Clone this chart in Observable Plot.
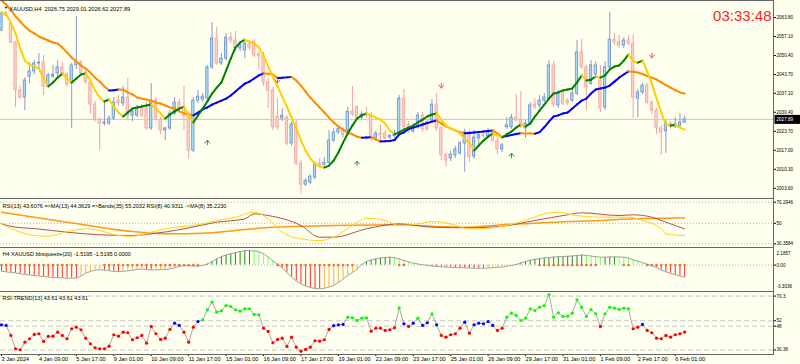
<!DOCTYPE html>
<html><head><meta charset="utf-8">
<script src="https://cdn.jsdelivr.net/npm/d3@7"></script>
<script src="https://cdn.jsdelivr.net/npm/@observablehq/plot@0.6"></script>
<style>
html,body{margin:0;padding:0;background:#fffff0;}
#chart{position:relative;width:800px;height:364px;background:#fffff0;overflow:hidden;font-family:"Liberation Sans",Arial,sans-serif;color:#000;}
#chart > svg, #chart > figure{position:absolute;left:0;margin:0;overflow:visible;}
.hl{position:absolute;left:0;width:774px;height:1px;background:#666;}
.vl{position:absolute;left:773px;top:0;width:1px;height:355px;background:#666;}
</style></head><body><div id="chart"></div>
<script>
// ---------------- DATA ----------------
const symbolName = "XAUUSD,H4";
const clockText = "03:33:48";
const open = [2059.2,2065.2,2061.7,2055.0,2038.1,2035.6,2043.0,2044.8,2047.6,2047.9,
2039.5,2043.0,2044.1,2046.2,2043.7,2040.5,2046.9,2047.9,2044.4,2040.9,
2033.1,2027.8,2026.4,2026.4,2028.2,2034.5,2033.5,2035.6,2029.2,2029.2,
2032.1,2031.7,2024.7,2034.5,2027.8,2024.0,2024.7,2029.9,2033.8,2032.1,
2029.2,2016.9,2034.5,2034.9,2035.2,2046.2,2056.4,2047.6,2049.3,2056.7,
2055.7,2052.9,2052.2,2054.6,2055.3,2050.8,2050.4,2040.9,2038.1,2028.8,
2028.2,2028.5,2019.4,2026.4,2012.3,2004.9,2005.6,2007.4,2012.3,2011.9,
2012.6,2020.4,2023.3,2024.4,2024.0,2030.6,2032.1,2028.5,2029.9,2029.2,
2021.2,2022.9,2022.9,2021.5,2022.0,2023.0,2035.2,2025.8,2023.7,2025.1,
2029.2,2027.1,2027.5,2033.1,2024.7,2015.2,2014.1,2015.2,2015.9,2019.4,
2023.3,2014.8,2021.2,2022.3,2021.9,2023.3,2020.4,2017.3,2025.1,2025.1,
2028.5,2027.5,2024.7,2026.4,2033.1,2032.8,2034.5,2035.2,2046.9,2032.8,
2037.0,2034.5,2034.5,2037.0,2051.5,2046.2,2040.5,2043.7,2041.6,2032.1,
2046.2,2056.0,2055.0,2053.9,2055.7,2054.6,2035.2,2037.4,2039.8,2033.8,
2031.0,2024.7,2023.7,2026.4,2025.4,2025.7,2026.75];
const high = [2065.9,2065.9,2062.0,2055.3,2039.5,2042.6,2047.9,2048.6,2051.1,2050.4,
2044.1,2046.9,2048.6,2047.9,2044.4,2047.6,2064.2,2048.6,2045.1,2041.6,
2034.2,2028.5,2034.5,2029.2,2035.6,2036.3,2039.5,2042.3,2031.7,2032.8,
2033.1,2033.8,2040.5,2035.6,2028.5,2025.1,2031.0,2035.6,2034.9,2039.5,
2030.6,2035.6,2038.1,2037.0,2046.9,2062.0,2060.3,2051.1,2058.1,2058.5,
2058.9,2055.3,2055.7,2055.7,2056.0,2051.8,2051.5,2042.3,2039.2,2035.2,
2031.7,2029.2,2027.1,2027.5,2013.4,2007.0,2008.4,2013.0,2014.1,2014.4,
2024.0,2024.7,2025.4,2025.1,2032.1,2039.5,2032.8,2030.6,2032.1,2030.3,
2023.7,2025.8,2024.0,2022.6,2024.0,2036.3,2038.4,2027.1,2026.4,2030.3,
2030.3,2027.8,2034.9,2037.0,2025.4,2016.2,2016.6,2018.4,2020.1,2024.4,
2024.0,2024.0,2023.7,2023.0,2024.7,2024.0,2021.2,2019.4,2028.5,2029.6,
2036.6,2037.7,2027.5,2033.8,2035.2,2036.3,2037.0,2048.6,2048.3,2038.1,
2037.7,2035.2,2038.1,2055.7,2056.0,2046.9,2048.6,2048.3,2046.9,2048.3,
2065.6,2058.2,2057.5,2056.7,2057.5,2057.8,2038.4,2040.5,2040.5,2034.5,
2031.7,2025.7,2027.5,2027.1,2028.5,2030.0,2029.01];
const low = [2058.9,2064.0,2054.6,2032.1,2034.9,2031.0,2040.5,2043.7,2045.5,2036.3,
2039.2,2042.3,2042.3,2043.0,2039.2,2024.7,2045.5,2043.0,2040.2,2029.9,
2027.0,2016.9,2025.5,2025.8,2027.5,2032.4,2032.4,2027.5,2027.1,2028.5,
2028.5,2024.0,2024.0,2027.5,2022.6,2020.4,2024.0,2029.2,2030.6,2024.0,
2013.8,2016.2,2033.5,2033.8,2034.5,2045.5,2046.9,2046.9,2048.6,2054.6,
2051.8,2051.8,2049.3,2052.2,2049.7,2045.5,2039.5,2031.7,2024.0,2024.0,
2027.1,2018.7,2018.4,2011.6,2001.7,2004.2,2004.9,2006.6,2010.9,2010.9,
2011.9,2019.7,2022.6,2021.2,2023.3,2028.8,2027.5,2027.8,2028.2,2020.1,
2020.4,2019.7,2020.8,2020.8,2021.2,2022.6,2024.0,2023.0,2022.9,2024.4,
2023.3,2023.7,2026.8,2023.7,2013.4,2011.2,2013.0,2014.1,2015.2,2009.2,
2012.6,2013.8,2019.0,2021.2,2021.2,2019.7,2015.5,2016.2,2024.4,2024.4,
2026.8,2024.7,2021.2,2025.8,2031.4,2031.7,2033.8,2034.5,2032.1,2031.7,
2032.8,2032.8,2033.8,2036.3,2045.5,2031.0,2039.8,2042.3,2030.3,2031.0,
2045.5,2054.0,2052.9,2052.9,2053.9,2028.2,2028.5,2036.6,2033.1,2029.6,
2022.6,2015.2,2015.9,2024.4,2024.7,2025.1,2026.62];
const close = [2065.2,2064.5,2055.0,2038.1,2035.6,2041.6,2044.8,2047.6,2047.9,2039.5,
2043.4,2043.6,2046.2,2044.1,2040.2,2046.9,2047.9,2044.1,2041.0,2033.1,
2027.8,2026.4,2026.8,2028.2,2033.8,2033.5,2035.6,2029.2,2030.6,2031.7,
2029.2,2024.7,2034.5,2028.2,2024.0,2024.7,2029.9,2033.8,2031.7,2029.2,
2016.9,2034.5,2035.9,2035.9,2046.2,2056.4,2047.6,2049.3,2056.7,2055.7,
2052.9,2054.0,2054.6,2053.2,2050.4,2050.1,2040.9,2038.1,2025.1,2025.1,
2029.2,2019.4,2026.1,2012.3,2004.9,2006.3,2007.7,2012.3,2011.6,2012.6,
2020.4,2023.3,2024.4,2022.3,2030.6,2029.6,2028.2,2029.6,2029.2,2021.5,
2022.9,2022.3,2021.2,2022.0,2023.0,2035.2,2025.1,2023.7,2025.1,2029.2,
2024.4,2024.4,2033.1,2024.7,2015.2,2013.4,2015.5,2017.3,2019.4,2023.3,
2014.5,2021.5,2022.3,2022.0,2023.7,2020.4,2017.3,2018.7,2025.8,2028.5,
2027.5,2025.1,2026.4,2032.8,2032.1,2034.5,2035.6,2046.9,2033.1,2037.0,
2033.5,2033.5,2037.0,2051.5,2046.2,2039.2,2046.9,2046.9,2031.7,2046.2,
2056.0,2055.0,2053.9,2055.7,2054.6,2035.6,2037.4,2039.8,2033.8,2031.0,
2024.7,2023.3,2026.4,2025.4,2026.1,2026.8,2027.89];
const fastMA = [2065.6,2064.9,2062.0,2058.2,2052.9,2048.6,2047.2,2046.5,2045.8,2042.3,
2039.5,2040.9,2042.6,2044.1,2042.3,2040.9,2042.3,2043.7,2044.1,2041.6,
2038.1,2035.6,2034.2,2034.9,2032.4,2030.3,2028.9,2030.3,2031.7,2032.1,
2032.4,2032.8,2033.1,2031.7,2030.0,2028.2,2029.6,2030.7,2031.7,2032.4,
2029.3,2026.8,2029.3,2031.7,2034.2,2037.0,2039.1,2040.9,2045.1,2049.3,
2053.2,2055.0,2056.0,2055.3,2054.6,2053.2,2050.4,2046.5,2043.0,2039.5,
2035.9,2032.4,2028.5,2024.7,2020.4,2016.9,2014.1,2012.3,2011.3,2010.9,
2011.6,2013.4,2016.2,2019.7,2022.9,2025.7,2028.2,2029.3,2030.0,2029.3,
2028.5,2027.8,2026.4,2024.0,2022.6,2023.3,2024.3,2025.0,2025.7,2026.8,
2027.8,2028.9,2029.6,2030.0,2027.8,2025.7,2024.7,2024.0,2022.9,2021.1,
2019.7,2016.9,2018.7,2020.4,2021.8,2022.9,2022.2,2021.5,2022.6,2023.6,
2025.0,2026.1,2025.4,2026.4,2028.9,2031.0,2033.1,2035.2,2037.0,2037.4,
2038.1,2038.4,2038.8,2040.9,2043.4,2041.6,2041.9,2043.0,2042.6,2043.4,
2045.5,2046.5,2046.9,2048.6,2050.8,2048.3,2047.9,2048.6,2044.8,2040.5,
2035.2,2030.3,2026.1,2025.7,2025.9,2025.0,2024.3];
const slowMA = [2069.8,2068.4,2066.3,2064.2,2062.4,2060.6,2059.2,2058.2,2057.1,2056.4,
2055.7,2055.0,2054.6,2053.2,2051.5,2049.7,2048.3,2046.9,2045.8,2044.4,
2042.6,2041.2,2039.5,2038.1,2038.2,2038.4,2038.3,2037.4,2036.7,2035.6,
2035.2,2034.9,2034.5,2033.8,2033.5,2032.8,2032.1,2031.7,2030.7,2030.0,
2029.6,2029.3,2030.3,2031.4,2032.1,2033.1,2033.8,2034.5,2035.2,2036.3,
2037.7,2039.1,2040.5,2041.2,2042.3,2043.4,2044.1,2044.0,2043.7,2042.5,
2042.6,2042.7,2042.8,2041.6,2039.8,2037.7,2035.6,2033.8,2032.1,2030.3,
2028.5,2026.8,2025.4,2024.3,2023.3,2022.6,2021.8,2021.4,2021.5,2021.6,
2020.8,2020.1,2020.2,2020.3,2020.6,2022.6,2023.3,2024.5,2025.0,2025.5,
2026.1,2026.6,2027.1,2027.5,2026.4,2025.4,2024.7,2024.0,2023.4,2023.0,
2023.1,2023.3,2023.4,2023.6,2023.8,2024.0,2022.9,2021.7,2022.0,2022.4,
2022.7,2023.0,2022.95,2022.9,2022.85,2023.4,2025.1,2027.1,2028.9,2029.3,
2030.0,2030.3,2031.7,2033.1,2034.5,2035.2,2037.0,2038.4,2038.8,2039.1,
2039.8,2041.2,2042.6,2043.7,2044.8,2044.7,2044.4,2043.9,2043.2,2042.6,
2041.9,2040.9,2040.0,2039.1,2038.2,2037.4,2037.0];
const buyArrowBars = [44, 76, 109];
const buyArrowPrices = [2019.7, 2012.3, 2015.1];
const sellArrowBars = [59, 94, 139];
const sellArrowPrices = [2041.6, 2039.8, 2050.4];
const priceTicks = [2063.8, 2057.1, 2050.4, 2043.7, 2037.1, 2030.4, 2023.7, 2017.0, 2010.3, 2003.6];

// RSI sub-window
const rsiTitle = "RSI(13) 43.6076 =>MA(13) 44.3629 =>Bands(35) 55.2032 RSI(8) 40.9311 ->MA(8) 35.2230";
const bandsBars = [0,7,14,21,28,36,43,50,57,64,71,85,92,100,107,114,121,128,135,142,146];
const bandsVals = [60.7,55.9,51.1,46.3,42.1,39.9,40.4,43.1,46.0,47.2,47.9,48.6,47.2,46.3,48.6,50.1,51.7,52.7,54.3,54.9,55.1];
const rsiBars = [0,3,7,14,21,28,32,39,46,52,54,57,64,68,71,78,85,92,100,107,114,121,124,132,135,139,142,146];
const rsiVals = [49.5,46.3,45.0,41.5,39.0,38.3,39.9,44.7,51.1,54.3,59.1,57.5,47.9,36.7,36.7,44.7,49.5,46.3,45.7,47.2,52.7,58.2,60.1,57.5,58.2,55.9,51.1,44.7];
const rsi8Bars = [0,4,7,10,14,18,21,25,28,32,35,43,46,50,54,57,60,64,68,71,75,78,82,85,89,92,96,100,102,107,112,116,119,122,128,134,137,141,142,146];
const rsi8Vals = [49.5,41.5,38.3,37.6,42.1,44.7,43.1,38.3,37.6,41.5,44.7,49.5,52.7,55.9,60.7,54.3,41.5,35.1,33.5,36.7,47.9,54.9,52.7,47.9,49.5,51.7,49.5,44.7,44.7,47.2,52.7,59.1,60.7,58.2,55.9,55.9,52.7,44.7,39.9,38.3];
const rsiLevels = [70.2946, 50, 30.3584];
const rsiLevelLabels = ["70.2946", "50", "30.3584"];

// bbsqueeze sub-window
const sqTitle = "H4 XAUUSD bbsqueeze(20) -1.5195 -1.5195 0.0000";
const sqHist = [-0.78,-0.86,-0.93,-1.01,-1.10,-1.19,-1.26,-1.33,-1.39,-1.46,
-1.52,-1.56,-1.60,-1.63,-1.67,-1.67,-1.67,-1.39,-1.01,-0.82,
-0.63,-0.59,-0.65,-0.72,-0.79,-0.82,-0.79,-0.73,-0.66,-0.54,
-0.50,-0.56,-0.63,-0.60,-0.57,-0.56,-0.50,-0.33,-0.15,-0.05,
-0.09,-0.11,-0.14,-0.05,0.14,0.46,0.78,1.10,1.29,1.44,
1.58,1.74,1.84,1.86,1.81,1.71,1.48,1.03,0.52,0.14,
-0.37,-0.95,-1.52,-2.03,-2.41,-2.67,-2.86,-2.99,-3.03,-2.96,
-2.80,-2.61,-2.22,-1.78,-1.33,-0.95,-0.50,0.08,0.46,0.65,
0.78,0.91,0.97,1.01,0.93,0.80,0.59,0.40,0.24,0.14,
0.04,-0.05,-0.11,-0.18,-0.22,-0.26,-0.28,-0.31,-0.33,-0.34,
-0.37,-0.40,-0.40,-0.40,-0.37,-0.33,-0.29,-0.24,-0.15,-0.05,
0.08,0.27,0.46,0.61,0.74,0.80,0.91,0.97,1.03,1.07,
1.10,1.12,1.16,1.23,1.29,1.23,1.16,1.07,1.01,1.01,
1.03,1.05,1.03,1.01,0.91,0.65,0.49,0.33,0.10,-0.08,
-0.31,-0.63,-0.86,-1.05,-1.24,-1.39,-1.52];
const squeezeBars = [0,1,2,3,4,5,6,7,8,9,10,11,12,13,14,15,16,
22,23,24,25,26,27,28,29,30,31,32,33,34,35,36,37,38,39,40,41,42,
59,60,61,62,63,64,65,66,67,68,69,70,71,72,73,74,75,
85,86,115,116,117,118,119,120,121,122,123,124,125,126,127,133,134,
138,139,140,141,142,143,144,145,146];
const sqMaxLabel = "2.1857", sqMinLabel = "-3.3036";

// RSI-TREND sub-window
const trendTitle = "RSI-TREND(13) 43.61 43.61 43.61";
const rsiTrend = [49.04,48.52,41.11,31.26,30.52,36.15,38.67,41.85,42.37,36.67,
40.37,40.59,43.56,41.11,38.67,46.07,47.26,45.33,39.11,34.96,
32.00,31.26,31.26,33.19,41.63,40.59,43.56,43.11,37.93,39.41,
41.11,35.41,47.78,42.37,38.15,39.11,45.56,50.22,48.52,43.56,
36.15,47.26,51.48,52.74,60.15,65.78,58.37,59.41,63.33,62.59,
60.15,59.11,60.89,60.89,56.67,56.44,46.52,44.07,35.70,38.15,
39.11,32.96,39.85,32.44,29.48,30.74,32.44,37.19,36.89,37.93,
45.56,48.40,49.04,49.26,54.67,54.22,52.22,53.93,54.22,44.30,
46.52,46.52,44.81,45.33,46.81,61.63,49.78,47.78,50.22,53.93,
48.52,50.52,57.19,49.04,41.11,39.85,41.63,42.37,46.52,50.96,
42.81,49.04,50.22,49.78,51.48,48.52,44.81,46.52,54.67,57.63,
55.93,52.22,53.93,60.89,59.63,62.07,63.33,71.48,54.67,57.93,
55.19,55.41,57.63,67.56,62.07,55.19,60.37,57.19,47.78,57.19,
62.07,61.33,60.37,61.33,60.89,46.07,47.26,49.26,44.81,43.11,
39.11,38.67,41.11,39.85,41.63,42.37,43.61];
const trendLevels = [70.3, 52, 48, 30.36];
const trendLevelLabels = ["70.3", "52", "48", "30.36"];

// time axis
const xTickBars = [0,8,16,24,32,40,48,56,64,72,80,88,96,104,112,120,128,136,144];
const xTickLabels = ["3 Jan 2024","4 Jan 09:00","5 Jan 17:00","9 Jan 01:00","10 Jan 09:00","11 Jan 17:00","15 Jan 01:00","16 Jan 09:00","17 Jan 17:00","19 Jan 01:00","22 Jan 09:00","23 Jan 17:00","25 Jan 01:00","26 Jan 09:00","29 Jan 17:00","31 Jan 01:00","1 Feb 09:00","2 Feb 17:00","6 Feb 01:00"];

// ---------------- BUILD ----------------
const N = close.length;
const FONT = '"Liberation Sans", Arial, sans-serif';
const xScale = {domain: [-1 / 4.679, 772 / 4.679], axis: null};
const base = {width: 800, marginLeft: 0, marginRight: 27, marginTop: 0, marginBottom: 0,
  color: {type: "identity"},
  style: {background: "transparent", fontFamily: FONT, color: "#000", overflow: "visible"}};

const candles = d3.range(N).map(i => ({i, o: open[i], h: high[i], l: low[i], c: close[i], up: close[i] >= open[i]}));
function segs(vals, upC, dnC) {
  let prevUp = false;
  return d3.range(vals.length - 1).map(i => {
    const dv = vals[i + 1] - vals[i];
    const up = dv > 0 ? true : dv < 0 ? false : prevUp;
    prevUp = up;
    return {x1: i, y1: vals[i], x2: i + 1, y2: vals[i + 1], color: up ? upC : dnC};
  });
}
const upSym = {draw(ctx, size) { const r = Math.sqrt(size / Math.PI); ctx.moveTo(-r, r * 0.3); ctx.lineTo(0, -r); ctx.lineTo(r, r * 0.3); ctx.moveTo(0, -r); ctx.lineTo(0, r); }};
const dnSym = {draw(ctx, size) { const r = Math.sqrt(size / Math.PI); ctx.moveTo(-r, -r * 0.3); ctx.lineTo(0, r); ctx.lineTo(r, -r * 0.3); ctx.moveTo(0, r); ctx.lineTo(0, -r); }};
const boxSym = {draw(ctx) { ctx.rect(1, -4.5, 26, 9); }};
const lastC = close[N - 1];
const titleStr = `${symbolName}  ${open[N-1].toFixed(2)} ${high[N-1].toFixed(2)} ${low[N-1].toFixed(2)} ${close[N-1].toFixed(2)}`;

const main = Plot.plot({...base, height: 198,
  x: xScale, y: {domain: [2000.0, 2069.8], axis: null},
  marks: [
    Plot.ruleY([lastC], {stroke: "#c8c8c8", strokeWidth: 1}),
    Plot.ruleX(candles, {x: "i", y1: "l", y2: "h", stroke: d => d.up ? "#8f97cc" : "#f2a3a3", strokeWidth: 1}),
    Plot.rect(candles, {x1: d => d.i - 0.25, x2: d => d.i + 0.25, y1: "o", y2: "c",
      fill: d => d.up ? "#a9ddef" : "#ffcfc8", stroke: d => d.up ? "#6b8fd3" : "#f3a39c", strokeWidth: 0.8}),
    Plot.link(segs(slowMA, "#0000ff", "#ff8c00"), {x1: "x1", y1: "y1", x2: "x2", y2: "y2", stroke: "color", strokeWidth: 2, strokeLinecap: "round"}),
    Plot.link(segs(fastMA, "#008000", "#ffd000"), {x1: "x1", y1: "y1", x2: "x2", y2: "y2", stroke: "color", strokeWidth: 2, strokeLinecap: "round"}),
    Plot.dot(buyArrowBars.map((b, k) => ({b, p: buyArrowPrices[k]})), {x: "b", y: "p", symbol: upSym, r: 2.6, stroke: "#2e9e2e", fill: "none", strokeWidth: 1}),
    Plot.dot(sellArrowBars.map((b, k) => ({b, p: sellArrowPrices[k]})), {x: "b", y: "p", symbol: dnSym, r: 2.6, stroke: "#e06060", fill: "none", strokeWidth: 1}),
    Plot.axisY(priceTicks, {anchor: "right", tickFormat: d => d.toFixed(2), tickSize: 2, tickPadding: 1, fontSize: 4.6, label: null}),
    Plot.dot([lastC], {y: d => d, frameAnchor: "right", symbol: boxSym, fill: "#000", stroke: "none"}),
    Plot.text([lastC], {y: d => d, frameAnchor: "right", dx: 3, textAnchor: "start", text: d => d.toFixed(2), fill: "#fff", fontSize: 4.6}),
    Plot.text(["▼"], {frameAnchor: "top-left", dx: 3.5, dy: 6, text: d => d, fontSize: 4}),
    Plot.text([titleStr], {frameAnchor: "top-left", dx: 9, dy: 6.5, textAnchor: "start", text: d => d, fontSize: 5.6}),
    Plot.text([clockText], {frameAnchor: "top-right", dx: -2, dy: 10, textAnchor: "end", text: d => d, fontSize: 15, fill: "#ff2424"})
  ]});

const rsi = Plot.plot({...base, height: 49,
  x: xScale, y: {domain: [26.8, 73.85], axis: null},
  marks: [
    Plot.ruleY(rsiLevels, {stroke: "#b8b8b8", strokeDasharray: "1,2"}),
    Plot.line(bandsBars.map((b, k) => ({b, v: bandsVals[k]})), {x: "b", y: "v", stroke: "#ff9a1a", strokeWidth: 1.5, curve: "monotone-x"}),
    Plot.line(rsiBars.map((b, k) => ({b, v: rsiVals[k]})), {x: "b", y: "v", stroke: "#b0524e", strokeWidth: 1, curve: "monotone-x"}),
    Plot.line(rsi8Bars.map((b, k) => ({b, v: rsi8Vals[k]})), {x: "b", y: "v", stroke: "#ffd21a", strokeWidth: 1, curve: "monotone-x"}),
    Plot.axisY(rsiLevels, {anchor: "right", tickFormat: d => rsiLevelLabels[rsiLevels.indexOf(d)], tickSize: 2, tickPadding: 1, fontSize: 4.6, label: null}),
    Plot.text([rsiTitle], {frameAnchor: "top-left", dx: 2, dy: 5.5, textAnchor: "start", text: d => d, fontSize: 5.5})
  ]});

const hist = sqHist.map((v, i) => {
  const prev = i > 0 ? sqHist[i - 1] : v;
  let col;
  if (v >= 0) col = v >= prev ? "#1f8f1f" : "#7dff6a";
  else col = v <= prev ? "#ff2a2a" : "#ffb347";
  return {i, v, col};
});
const sq = Plot.plot({...base, height: 44,
  x: xScale, y: {domain: [-3.372, 2.248], axis: null},
  marks: [
    Plot.ruleY([0], {stroke: "#b8b8b8", strokeDasharray: "1,2"}),
    Plot.ruleX(hist, {x: "i", y1: 0, y2: "v", stroke: "col", strokeWidth: 1}),
    Plot.line(hist, {x: "i", y: "v", stroke: "#a0a0a0", strokeWidth: 1}),
    Plot.dot(squeezeBars, {x: d => d, y: 0, r: 1.3, fill: "#e07a3a", stroke: "none"}),
    Plot.axisY([0], {anchor: "right", tickFormat: d => d.toFixed(2), tickSize: 2, tickPadding: 1, fontSize: 4.6, label: null}),
    Plot.text([sqMaxLabel], {frameAnchor: "top-right", dx: 3, dy: 4, textAnchor: "start", text: d => d, fontSize: 4.6}),
    Plot.text([sqMinLabel], {frameAnchor: "bottom-right", dx: 3, dy: -4, textAnchor: "start", text: d => d, fontSize: 4.6}),
    Plot.text([sqTitle], {frameAnchor: "top-left", dx: 2, dy: 4.5, textAnchor: "start", text: d => d, fontSize: 5.5})
  ]});

const trendPts = rsiTrend.map((v, i) => ({i, v, col: v > 52 ? "#00ff00" : v < 48 ? "#ff0000" : "#0000ff"}));
const trend = Plot.plot({...base, height: 73, marginBottom: 10,
  x: xScale, y: {domain: [27.0, 73.7], axis: null},
  marks: [
    Plot.ruleY(trendLevels, {stroke: "#c8c8c8", strokeDasharray: "5,3"}),
    Plot.line(trendPts, {x: "i", y: "v", stroke: "#a8a8a8", strokeWidth: 1}),
    Plot.dot(trendPts, {x: "i", y: "v", r: 1.6, fill: "col", stroke: "none"}),
    Plot.axisY(trendLevels, {anchor: "right", tickFormat: d => trendLevelLabels[trendLevels.indexOf(d)], tickSize: 2, tickPadding: 1, fontSize: 4.6, label: null}),
    Plot.axisX(xTickBars, {anchor: "bottom", tickFormat: d => xTickLabels[xTickBars.indexOf(d)], tickSize: 2, tickPadding: 0.5, textAnchor: "start", fontSize: 5.6, label: null}),
    Plot.text([trendTitle], {frameAnchor: "top-left", dx: 2, dy: 5, textAnchor: "start", text: d => d, fontSize: 5.5})
  ]});

const chart = document.getElementById("chart");
[[main, 0], [rsi, 198], [sq, 247], [trend, 291]].forEach(([el, top]) => {
  el.style.position = "absolute"; el.style.top = top + "px"; el.style.left = "0px";
  chart.appendChild(el);
});
[0, 198, 247, 291, 354].forEach(y => {
  const d = document.createElement("div"); d.className = "hl"; d.style.top = y + "px"; chart.appendChild(d);
});
const v = document.createElement("div"); v.className = "vl"; chart.appendChild(v);
</script></body></html>
